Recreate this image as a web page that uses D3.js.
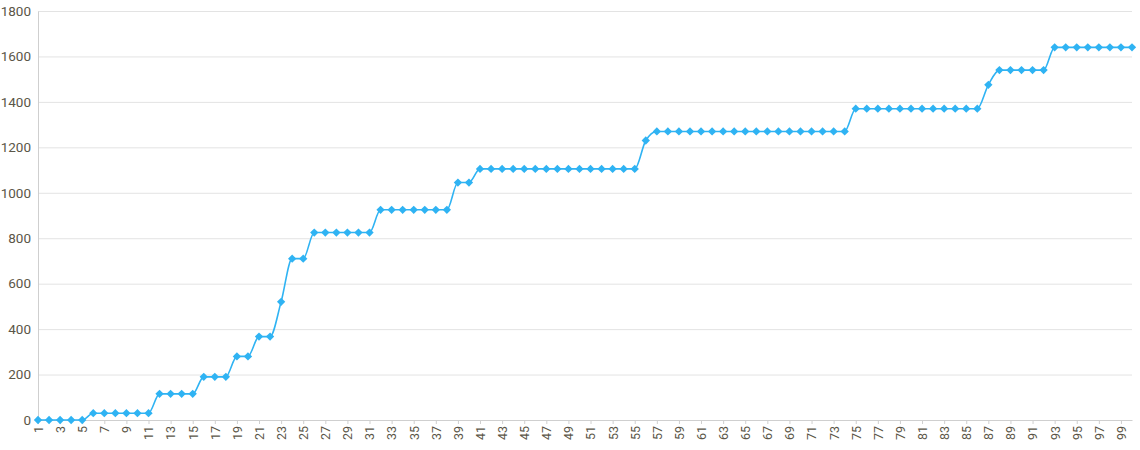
<!DOCTYPE html>
<html>
<head>
<meta charset="utf-8">
<script src="https://cdn.jsdelivr.net/npm/d3@7"></script>
<style>
  body { margin: 0; background: #fff; font-family: "Open Sans", "DejaVu Sans", sans-serif; }
  .grid line { stroke: #e3e3e3; }
  .axis text { fill: #5b5648; }
</style>
</head>
<body>
<div id="chart"></div>
<script>
// categories 1..100
var categories = d3.range(1, 101)

// cumulative values
var values = [
  0, 0, 0, 0, 0,
  30, 30, 30, 30, 30, 30,
  115, 115, 115, 115,
  190, 190, 190,
  280, 280,
  367, 367,
  520,
  710, 710,
  825, 825, 825, 825, 825, 825,
  925, 925, 925, 925, 925, 925, 925,
  1045, 1045,
  1105, 1105, 1105, 1105, 1105, 1105, 1105, 1105, 1105, 1105, 1105, 1105, 1105, 1105, 1105,
  1230,
  1270, 1270, 1270, 1270, 1270, 1270, 1270, 1270, 1270, 1270, 1270, 1270, 1270, 1270, 1270, 1270, 1270, 1270,
  1370, 1370, 1370, 1370, 1370, 1370, 1370, 1370, 1370, 1370, 1370, 1370,
  1475,
  1540, 1540, 1540, 1540, 1540,
  1640, 1640, 1640, 1640, 1640, 1640, 1640, 1640
]

var yTicks = [0, 200, 400, 600, 800, 1000, 1200, 1400, 1600, 1800]

var data = categories.map(function(c, i){ return {cat: c, val: values[i]} })

var width = 1140, height = 450
var margin = {left: 38, right: 8, top: 11, bottom: 30}

var svg = d3.select('#chart').append('svg')
  .attr('width', width).attr('height', height)

var x = d3.scaleLinear().domain([1, 100]).range([margin.left, width - margin.right])
var y = d3.scaleLinear().domain([0, 1800]).range([height - margin.bottom, margin.top])

// gridlines
svg.append('g').attr('class', 'grid')
  .selectAll('line').data(yTicks).join('line')
  .attr('x1', margin.left).attr('x2', width - margin.right)
  .attr('y1', function(d){ return y(d) + .5 }).attr('y2', function(d){ return y(d) + .5 })

// y axis
var yAxis = svg.append('g').attr('class', 'axis')
  .attr('transform', 'translate(' + margin.left + ',0)')
  .call(d3.axisLeft(y).tickValues(yTicks).tickFormat(d3.format('d')).tickSize(0).tickPadding(7))
yAxis.select('.domain').attr('stroke', '#cfcfcf')
yAxis.selectAll('text').style('font-size', '13.5px').style('font-family', 'Roboto, "Open Sans", sans-serif')

// x axis, odd labels only
var xAxis = svg.append('g').attr('class', 'axis')
  .attr('transform', 'translate(0,' + (height - margin.bottom) + ')')
  .call(d3.axisBottom(x).tickValues(categories.filter(function(d){ return d % 2 == 1 }))
    .tickFormat(d3.format('d')).tickSize(4).tickSizeOuter(0))
xAxis.select('.domain').attr('stroke', '#cfcfcf')
xAxis.selectAll('.tick line').attr('stroke', '#cfcfcf')
xAxis.selectAll('text')
  .style('font-size', '12.5px').style('font-family', 'Roboto, "Open Sans", sans-serif')
  .attr('text-anchor', 'end')
  .attr('transform', 'rotate(-90)')
  .attr('x', -6).attr('y', 0).attr('dy', '0.35em')

// line
var line = d3.line()
  .x(function(d){ return x(d.cat) })
  .y(function(d){ return y(d.val) })
  .curve(d3.curveMonotoneX)

svg.append('path')
  .attr('d', line(data))
  .attr('fill', 'none')
  .attr('stroke', '#2fb3f3')
  .attr('stroke-width', 1.6)

// diamond markers
var diamond = d3.symbol().type(d3.symbolDiamond2).size(44)
svg.append('g').selectAll('path').data(data).join('path')
  .attr('d', diamond)
  .attr('transform', function(d){ return 'translate(' + x(d.cat) + ',' + y(d.val) + ')' })
  .attr('fill', '#2fb3f3')
</script>
</body>
</html>
